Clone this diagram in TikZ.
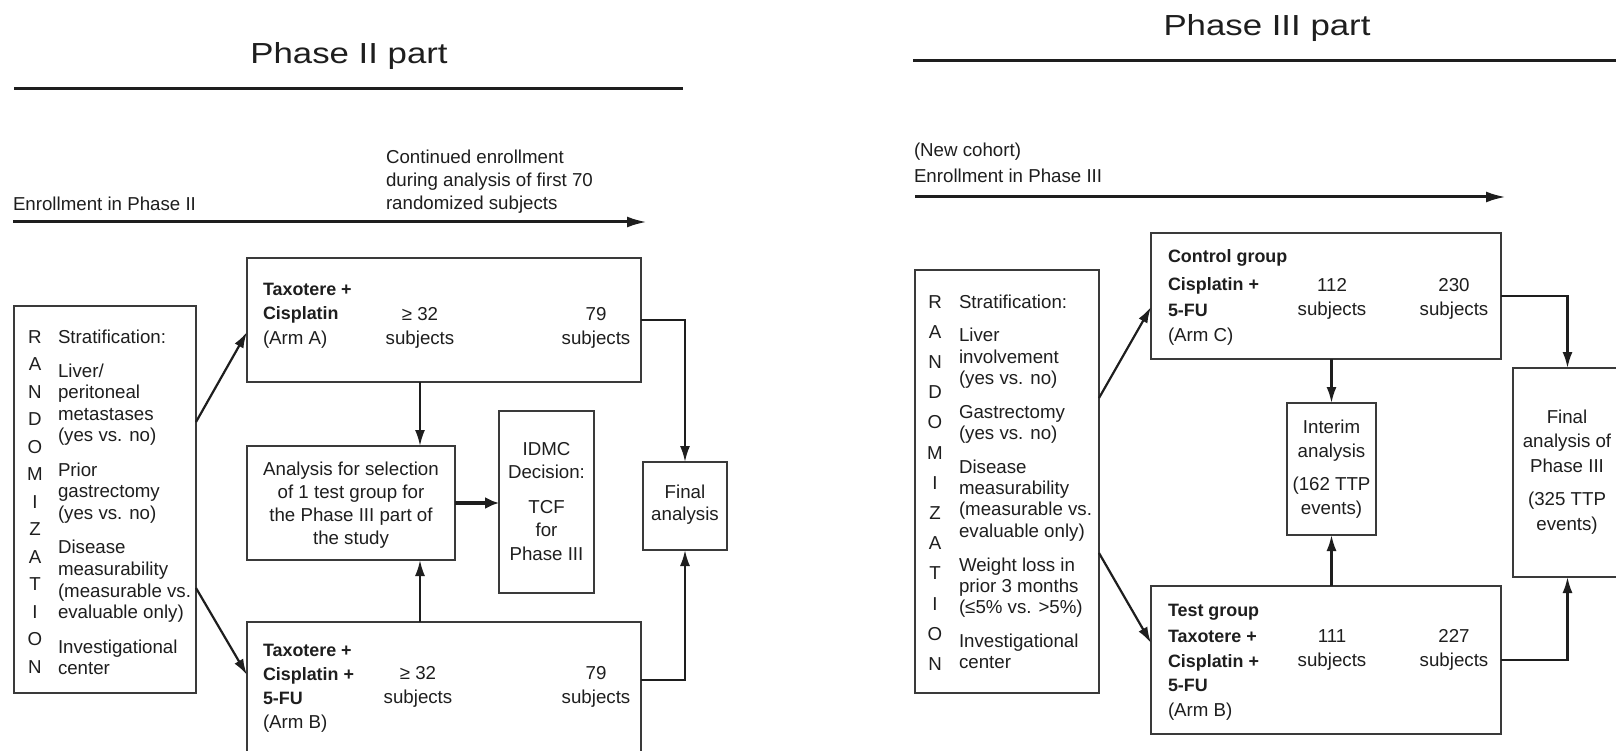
\documentclass[tikz,border=0pt]{standalone}
\usepackage{fontspec}
\setmainfont{Liberation Sans}
\newfontfamily\titlefont{Liberation Sans}[FakeStretch=1.2]
\usetikzlibrary{arrows.meta}
\definecolor{ink}{HTML}{1E1E1E}
\definecolor{boxc}{HTML}{3A3A3A}
\newcommand{\tblk}[2][l]{\begin{tabular}[t]{@{}#1@{}}#2\end{tabular}}
\newcommand{\bt}[1]{{\fontsize{17.9pt}{24.5pt}\selectfont\bfseries #1}}
\newcommand{\mkbox}[5]{\node[bx, minimum width={(#4)-(#2)}, minimum height={(#5)-(#3)}] (#1) at ({((#2)+(#4))/2},{((#3)+(#5))/2}) {};}
\tikzset{
  every node/.style={inner sep=0pt, outer sep=0pt, text=ink},
  bx/.style={draw=boxc, line width=1.7pt, fill=none},
  ttl/.style={anchor=base, font=\titlefont\fontsize{29pt}{34pt}\selectfont},
  txt/.style={anchor=base west, font=\fontsize{18.7pt}{24.5pt}\selectfont},
  ctxt/.style={anchor=base, font=\fontsize{18.7pt}{24.5pt}\selectfont},
  arr/.style={draw=ink, line width=2.2pt, -{Latex[length=16pt,width=10pt]}},
  rule/.style={draw=ink, line width=3pt},
  enr/.style={draw=ink, line width=3pt, -{Latex[length=20pt,width=11pt]}}
}
\begin{document}
\begin{tikzpicture}[x=1pt,y=-1pt]
\useasboundingbox (0,0) rectangle (1616,751);
\fill[white] (0,0) rectangle (1616,751);

% ---------------- Phase II ----------------
\node[ttl] (t2) at (349,64) {Phase II part};
\coordinate (h2a) at (14,89); \coordinate (h2b) at (683,89);
\draw[rule] (h2a) -- (h2b);
\node[txt] (en2) at (13,211) {Enrollment in Phase II};
\node[txt, font=\fontsize{18.7pt}{23pt}\selectfont] (cont) at (386,164)
  {\tblk{Continued enrollment\\during analysis of first 70\\randomized subjects}};
\coordinate (a2s) at (13,222); \coordinate (a2e) at (647,222);
\draw[enr] (a2s) -- (a2e);

\mkbox{st2}{14}{306}{196}{693}
\mkbox{armA}{247}{258}{641}{382}
\mkbox{armB}{247}{622}{641}{770}
\mkbox{ana}{247}{446}{455}{560}
\mkbox{idmc}{499}{411}{594}{593}
\mkbox{fin2}{643}{462}{727}{550}

\node[ctxt, font=\fontsize{18.7pt}{27.5pt}\selectfont] (rnd2) at (35,343)
  {\tblk[c]{R\\A\\N\\D\\O\\M\\I\\Z\\A\\T\\I\\O\\N}};
\node[txt, font=\fontsize{18.7pt}{21.6pt}\selectfont] (s2) at (58,343)
  {\tblk{Stratification:\\[12.5pt]Liver/\\peritoneal\\metastases\\(yes vs. no)\\[12.5pt]Prior\\gastrectomy\\(yes vs. no)\\[13pt]Disease\\measurability\\(measurable vs.\\evaluable only)\\[13pt]Investigational\\center}};

\node[txt] (armAt) at (263,295) {\tblk{\bt{Taxotere +}\\\bt{Cisplatin}\\(Arm A)}};
\node[ctxt] (armAn1) at (420,320) {\tblk[c]{≥ 32\\subjects}};
\node[ctxt] (armAn2) at (596,320) {\tblk[c]{79\\subjects}};

\node[txt, font=\fontsize{18.7pt}{24pt}\selectfont] (armBt) at (263,656)
  {\tblk{\bt{Taxotere +}\\\bt{Cisplatin +}\\\bt{5-FU}\\(Arm B)}};
\node[ctxt] (armBn1) at (418,679) {\tblk[c]{≥ 32\\subjects}};
\node[ctxt] (armBn2) at (596,679) {\tblk[c]{79\\subjects}};

\node[ctxt, font=\fontsize{18.7pt}{23.3pt}\selectfont] (anat) at (351,475)
  {\tblk[c]{Analysis for selection\\of 1 test group for\\the Phase III part of\\the study}};
\node[ctxt, font=\fontsize{18.7pt}{23.5pt}\selectfont] (idmct) at (546.5,455)
  {\tblk[c]{IDMC\\Decision:\\[11pt]TCF\\for\\Phase III}};
\node[ctxt, font=\fontsize{18.7pt}{22pt}\selectfont] (fin2t) at (685,498)
  {\tblk[c]{Final\\analysis}};

\coordinate (p422) at (0,422); \coordinate (p332) at (0,332);
\coordinate (p588) at (0,588); \coordinate (p675) at (0,675);
\coordinate (x420) at (420,0); \coordinate (p680) at (0,680);
\draw[arr] (st2.east |- p422) -- (armA.west |- p332);
\draw[arr] (st2.east |- p588) -- (armB.west |- p675);
\draw[arr] (armA.south -| x420) -- (ana.north -| x420);
\draw[arr] (armB.north -| x420) -- (ana.south -| x420);
\draw[arr, line width=3.2pt, -{Latex[length=14pt,width=12pt]}] (ana.east) -- (ana.east -| idmc.west);
\draw[arr] (armA.east) -| (fin2.north);
\draw[arr] (armB.east |- p680) -| (fin2.south);

% ---------------- Phase III ----------------
\node[ttl] (t3) at (1267,36) {Phase III part};
\coordinate (h3a) at (913,61); \coordinate (h3b) at (1620,61);
\draw[rule] (h3a) -- (h3b);
\node[txt] (nc) at (914,157) {(New cohort)};
\node[txt] (en3) at (914,183) {Enrollment in Phase III};
\coordinate (a3s) at (915,197); \coordinate (a3e) at (1506,197);
\draw[enr] (a3s) -- (a3e);

\mkbox{st3}{915}{270}{1099}{693}
\mkbox{ctrl}{1151}{233}{1501}{359}
\mkbox{intr}{1287}{403}{1376}{535}
\mkbox{fin3}{1513}{368}{1622}{577}
\mkbox{test}{1151}{586}{1501}{734}

\node[ctxt, font=\fontsize{18.7pt}{30.2pt}\selectfont] (rnd3) at (935,308)
  {\tblk[c]{R\\A\\N\\D\\O\\M\\I\\Z\\A\\T\\I\\O\\N}};
\node[txt, font=\fontsize{18.7pt}{21.3pt}\selectfont] (s3) at (959,308)
  {\tblk{Stratification:\\[12.5pt]Liver\\involvement\\(yes vs. no)\\[12.5pt]Gastrectomy\\(yes vs. no)\\[12.5pt]Disease\\measurability\\(measurable vs.\\evaluable only)\\[12.5pt]Weight loss in\\prior 3 months\\(≤5\% vs. >5\%)\\[12.5pt]Investigational\\center}};

\node[txt, font=\fontsize{18.7pt}{25pt}\selectfont] (ctrlt) at (1168,263)
  {\tblk{\bt{Control group}\\[3pt]\bt{Cisplatin +}\\\bt{5-FU}\\(Arm C)}};
\node[ctxt] (ctrln1) at (1332,291) {\tblk[c]{112\\subjects}};
\node[ctxt] (ctrln2) at (1454,291) {\tblk[c]{230\\subjects}};

\node[ctxt, font=\fontsize{18.7pt}{24pt}\selectfont] (intrt) at (1331.5,433)
  {\tblk[c]{Interim\\analysis\\[9pt](162 TTP\\events)}};
\node[ctxt, font=\fontsize{18.7pt}{24.5pt}\selectfont] (fin3t) at (1567,423)
  {\tblk[c]{Final\\analysis of\\Phase III\\[9pt](325 TTP\\events)}};

\node[txt] (testt) at (1168,616)
  {\tblk{\bt{Test group}\\[2pt]\bt{Taxotere +}\\\bt{Cisplatin +}\\\bt{5-FU}\\(Arm B)}};
\node[ctxt] (testn1) at (1332,642) {\tblk[c]{111\\subjects}};
\node[ctxt] (testn2) at (1454,642) {\tblk[c]{227\\subjects}};

\coordinate (p398) at (0,398); \coordinate (p307) at (0,307);
\coordinate (p553) at (0,553); \coordinate (p643) at (0,643);
\draw[arr] (st3.east |- p398) -- (ctrl.west |- p307);
\draw[arr] (st3.east |- p553) -- (test.west |- p643);
\draw[arr] (ctrl.south -| intr.north) -- (intr.north);
\draw[arr] (test.north -| intr.south) -- (intr.south);
\draw[arr] (ctrl.east) -| (fin3.north);
\draw[arr] (test.east) -| (fin3.south);
\end{tikzpicture}
\end{document}
